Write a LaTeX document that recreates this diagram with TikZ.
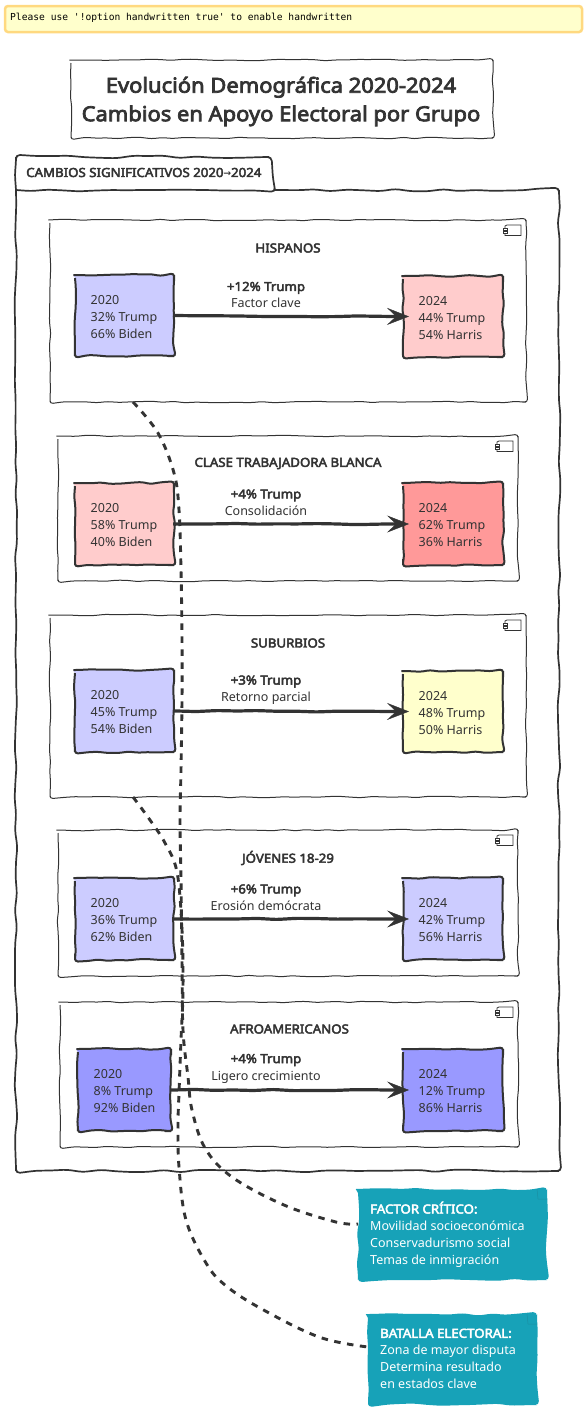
\documentclass[tikz,border=0pt]{standalone}
\usepackage{fontspec}
\setmainfont{Noto Sans}[BoldFont={Noto Sans},BoldFeatures={FakeBold=3.6,FakeStretch=1.06}]
\newfontfamily\monof{DejaVu Sans Mono}
\newfontfamily\arrowf{DejaVu Sans}
\usetikzlibrary{decorations.pathmorphing,arrows.meta,calc}
\definecolor{ink}{HTML}{333333}
\definecolor{bluelt}{HTML}{CCCCFF}
\definecolor{bluedk}{HTML}{9999FF}
\definecolor{redlt}{HTML}{FFCCCC}
\definecolor{reddk}{HTML}{FF9999}
\definecolor{yel}{HTML}{FFFFCC}
\definecolor{warnb}{HTML}{FFD980}
\definecolor{teal}{HTML}{17A2B8}
\definecolor{tealdk}{HTML}{1A8FA3}
\pgfmathsetseed{42}
\tikzset{
 wob/.style={decorate,decoration={random steps,segment length=11pt,amplitude=0.8pt},rounded corners=3pt},
 wobs/.style={decorate,decoration={random steps,segment length=10pt,amplitude=1pt},rounded corners=3pt},
 wobb/.style={decorate,decoration={random steps,segment length=16pt,amplitude=1.4pt},rounded corners=4pt},
 titlebox/.style={draw=ink,line width=1pt,wob},
 compbox/.style={draw=ink,line width=1pt,wob},
 pkgline/.style={draw=ink,line width=1.7pt,wobb},
 yrbox/.style={draw=ink,line width=2pt,wobs},
 yrtxt/.style={font=\fontsize{12.5}{17}\selectfont,text=ink,align=left,anchor=north west,inner sep=0pt},
 head/.style={font=\bfseries\fontsize{12.5}{15}\selectfont,text=ink,inner sep=0pt},
 lab/.style={font=\fontsize{12.5}{17}\selectfont,text=ink,align=center,inner sep=0pt},
 flow/.style={draw=ink,line width=3.2pt,decorate,decoration={random steps,segment length=20pt,amplitude=0.7pt,post=lineto,post length=24pt,pre=lineto,pre length=4pt},rounded corners=3pt,-{Stealth[length=22pt,width=17pt,inset=9pt,line width=0.4pt]}},
 dashl/.style={draw=ink,line width=2.9pt,dash pattern=on 6.5pt off 6.5pt,smooth,tension=0.6},
 notebox/.style={fill=teal,decorate,decoration={random steps,segment length=14pt,amplitude=1.6pt},rounded corners=4pt},
 notetxt/.style={font=\fontsize{12.5}{17}\selectfont,text=white,align=left,anchor=north west,inner sep=0pt},
 warn/.style={fill=yel,draw=warnb,line width=2.5pt,rounded corners=3pt},
 comp/.style={draw=ink,line width=0.8pt},
 fold/.style={draw=tealdk,line width=0.5pt}
}
\newcommand{\compbox}[5]{% name x1 y1 x2 y2
 \draw[compbox] (#2,#3) rectangle (#4,#5);
 \coordinate (#1) at (#2,#5);
 \draw[comp] (#4-21,#3+6) -- (#4-19,#3+5) -- (#4-5,#3+5) -- (#4-5,#3+15.5) -- (#4-21,#3+15.5) -- cycle;
 \draw[comp,fill=white] (#4-23,#3+8) rectangle (#4-19,#3+10);
 \draw[comp,fill=white] (#4-23,#3+11) rectangle (#4-19,#3+13);
}
\newcommand{\yrbox}[7]{% name x1 y1 x2 y2 colour text
 \path[yrbox,fill=#6] (#2,#3) rectangle (#4,#5);
 \coordinate (#1e) at (#4-1,{(#3+#5)/2});
 \coordinate (#1w) at (#2+6,{(#3+#5)/2});
 \node[yrtxt] (#1t) at (#2+15.5,#3+20) {#7};
}
\begin{document}
\begin{tikzpicture}[x=1pt,y=-1pt]
\useasboundingbox (0,0) rectangle (586,1414);
\fill[white] (0,0) rectangle (586,1414);
% warning
\draw[warn] (5,6) rectangle (582,32);
\node[anchor=west,inner sep=0pt,font=\monof\fontsize{9.63}{12}\selectfont,text=black] (warning) at (10,17.5) {Please use '!option handwritten true' to enable handwritten};
% title
\draw[titlebox] (71,60) rectangle (493,138);
\node[font=\bfseries\fontsize{20.7}{28.5}\selectfont,text=ink,align=center,inner sep=0pt] (title) at (281,101.5) {Evolución Demográfica 2020-2024\\Cambios en Apoyo Electoral por Grupo};
% package
\path[pkgline] (16,190) -- (16,1171) -- (559,1171) -- (559,190) -- (275,190);
\path[pkgline] (16,190) -- (16,157) -- (269,157) -- (275,190) -- (16,190);
\node[font=\bfseries\fontsize{12.5}{15}\selectfont,text=ink,anchor=west,inner sep=0pt] (pkg) at (26,172.5) {CAMBIOS SIGNIFICATIVOS 2020{\arrowf\fontsize{9}{15}\selectfont →}2024};
% components
\compbox{a}{50}{220}{526}{402}
\compbox{b}{58}{436}{518}{581}
\compbox{c}{50}{615}{526}{797}
\compbox{d}{58}{830}{518}{976}
\compbox{e}{60}{1002}{518}{1147}
\node[head] (ah) at (288,248) {HISPANOS};
\node[head] (bh) at (288,463.5) {CLASE TRABAJADORA BLANCA};
\node[head] (ch) at (288,643) {SUBURBIOS};
\node[head] (dh) at (288,858) {JÓVENES 18-29};
\node[head] (eh) at (289.5,1029) {AFROAMERICANOS};
% boxes
\yrbox{a1}{75}{275}{174}{356}{bluelt}{2020\\32\% Trump\\66\% Biden}
\yrbox{a2}{403}{276}{503}{357}{redlt}{2024\\44\% Trump\\54\% Harris}
\yrbox{b1}{75}{483}{174}{565}{redlt}{2020\\58\% Trump\\40\% Biden}
\yrbox{b2}{403}{483}{503}{565}{reddk}{2024\\62\% Trump\\36\% Harris}
\yrbox{c1}{75}{670}{174}{752}{bluelt}{2020\\45\% Trump\\54\% Biden}
\yrbox{c2}{403}{671}{503}{752}{yel}{2024\\48\% Trump\\50\% Harris}
\yrbox{d1}{75}{878}{174}{960}{bluelt}{2020\\36\% Trump\\62\% Biden}
\yrbox{d2}{403}{878}{503}{960}{bluelt}{2024\\42\% Trump\\56\% Harris}
\yrbox{e1}{78}{1049}{171}{1131}{bluedk}{2020\\8\% Trump\\92\% Biden}
\yrbox{e2}{403}{1049}{503}{1131}{bluedk}{2024\\12\% Trump\\86\% Harris}
% notes
\path[notebox] (358,1189) rectangle (547,1280);
\draw[fold] (537,1189) -- (538,1199) -- (547,1199);
\node[notetxt] (n1) at (370,1201.5) {\textbf{FACTOR CRÍTICO:}\\Movilidad socioeconómica\\Conservadurismo social\\Temas de inmigración};
\path[notebox] (368,1314) rectangle (537,1405);
\draw[fold] (527,1314) -- (528,1324) -- (537,1324);
\node[notetxt] (n2) at (380,1328.5) {\textbf{BATALLA ELECTORAL:}\\Zona de mayor disputa\\Determina resultado\\en estados clave};
\coordinate (na) at (133,402);
\coordinate (nc) at (133,797);
\coordinate (n1w) at (358,1224);
\coordinate (n2w) at (368,1347);
% flows
\draw[flow] (a1e) -- (a2w);
\draw[flow] (b1e) -- (b2w);
\draw[flow] (c1e) -- (c2w);
\draw[flow] (d1e) -- (d2w);
\draw[flow] (e1e) -- (e2w);
% dashed
\draw[dashl] plot coordinates {(na) (158,433) (174,473) (179,510) (181,570) (182,640) (182,700) (181,770) (180,820) (181,880) (182,960) (183,1030) (188,1077) (192,1110) (205,1148) (232,1177) (284,1205) (336,1222) (n1w)};
\draw[dashl] plot coordinates {(nc) (150,820) (165,843) (177,872) (182,930) (183,990) (181,1040) (179,1093) (178,1125) (179,1167) (186,1220) (206,1263) (225,1285) (260,1308) (319,1337) (n2w)};
% labels
\node[lab] (al) at (266,295) {\textbf{+12\% Trump}\\Factor clave};
\node[lab] (bl) at (266,502.5) {\textbf{+4\% Trump}\\Consolidación};
\node[lab] (cl) at (266,690) {\textbf{+3\% Trump}\\Retorno parcial};
\node[lab] (dl) at (266,897.5) {\textbf{+6\% Trump}\\Erosión demócrata};
\node[lab] (el) at (266,1068.5) {\textbf{+4\% Trump}\\Ligero crecimiento};
\end{tikzpicture}
\end{document}
